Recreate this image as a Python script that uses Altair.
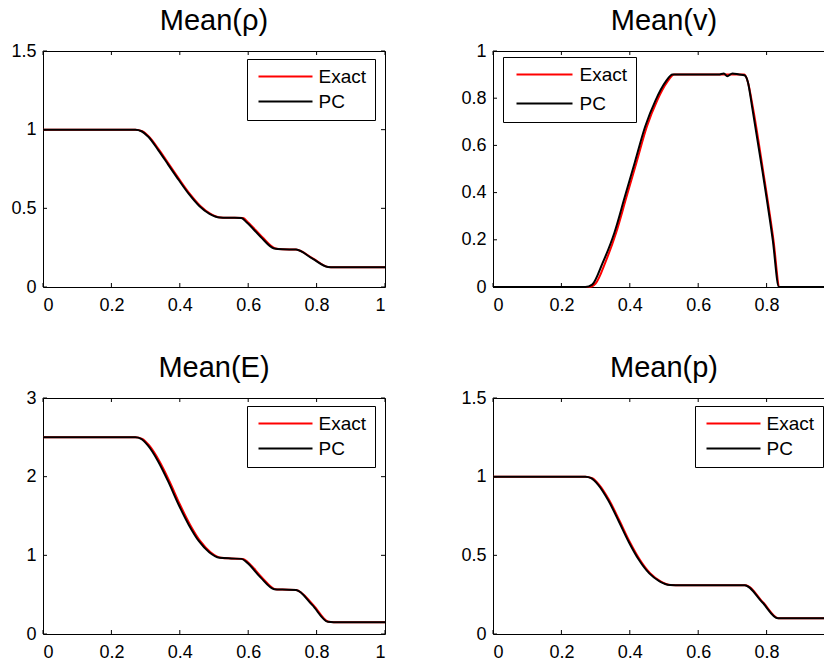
import altair as alt
import pandas as pd

FONT = "Liberation Sans"
W, H = 342, 236

x_ticks = [0, 0.2, 0.4, 0.6, 0.8, 1]
series_names = ["Exact", "PC"]
series_colors = ["#ff0000", "#000000"]

# Mean(rho)
rho_exact_x = [0, 0.27, 0.29, 0.31, 0.34, 0.37, 0.40, 0.43, 0.46, 0.49, 0.52, 0.55, 0.585, 0.60, 0.64, 0.68, 0.70, 0.74, 0.79, 0.835, 0.85, 1.0]
rho_exact_y = [1.0, 1.0, 0.99, 0.955, 0.87, 0.775, 0.68, 0.59, 0.515, 0.465, 0.442, 0.44, 0.438, 0.41, 0.32, 0.245, 0.24, 0.238, 0.18, 0.127, 0.125, 0.125]
rho_pc_x = [0, 0.27, 0.288, 0.308, 0.337, 0.367, 0.397, 0.427, 0.457, 0.487, 0.517, 0.55, 0.58, 0.596, 0.636, 0.676, 0.70, 0.74, 0.788, 0.833, 0.85, 1.0]
rho_pc_y = [1.0, 1.0, 0.99, 0.955, 0.87, 0.775, 0.68, 0.59, 0.515, 0.465, 0.442, 0.44, 0.438, 0.41, 0.32, 0.245, 0.24, 0.238, 0.18, 0.127, 0.125, 0.125]
rho_y_ticks = [0, 0.5, 1, 1.5]

# Mean(v)
v_exact_x = [0, 0.28, 0.30, 0.33, 0.36, 0.39, 0.42, 0.45, 0.48, 0.51, 0.53, 0.60, 0.70, 0.735, 0.745, 0.76, 0.79, 0.82, 0.838, 1.0]
v_exact_y = [0, 0, 0.015, 0.11, 0.23, 0.38, 0.53, 0.68, 0.79, 0.87, 0.90, 0.90, 0.90, 0.90, 0.87, 0.76, 0.49, 0.20, 0.0, 0]
v_pc_x = [0, 0.27, 0.29, 0.32, 0.355, 0.385, 0.415, 0.445, 0.475, 0.505, 0.525, 0.60, 0.66, 0.675, 0.685, 0.70, 0.72, 0.735, 0.745, 0.758, 0.788, 0.818, 0.836, 1.0]
v_pc_y = [0, 0, 0.01, 0.10, 0.23, 0.38, 0.53, 0.68, 0.79, 0.87, 0.90, 0.90, 0.90, 0.905, 0.893, 0.905, 0.90, 0.897, 0.87, 0.76, 0.49, 0.20, 0.0, 0]
v_y_ticks = [0, 0.2, 0.4, 0.6, 0.8, 1]

# Mean(E)
e_exact_x = [0, 0.27, 0.29, 0.31, 0.34, 0.37, 0.40, 0.43, 0.46, 0.49, 0.52, 0.55, 0.585, 0.60, 0.64, 0.68, 0.70, 0.74, 0.79, 0.835, 0.85, 1.0]
e_exact_y = [2.5, 2.5, 2.48, 2.40, 2.20, 1.94, 1.65, 1.39, 1.18, 1.04, 0.97, 0.96, 0.955, 0.91, 0.72, 0.57, 0.565, 0.56, 0.37, 0.155, 0.15, 0.15]
e_pc_x = [0, 0.27, 0.287, 0.306, 0.336, 0.366, 0.396, 0.426, 0.456, 0.486, 0.516, 0.55, 0.58, 0.596, 0.636, 0.676, 0.70, 0.74, 0.787, 0.833, 0.85, 1.0]
e_pc_y = [2.5, 2.5, 2.48, 2.40, 2.20, 1.94, 1.65, 1.39, 1.18, 1.04, 0.97, 0.96, 0.955, 0.91, 0.72, 0.57, 0.565, 0.56, 0.37, 0.155, 0.15, 0.15]
e_y_ticks = [0, 1, 2, 3]

# Mean(p)
p_exact_x = [0, 0.27, 0.29, 0.31, 0.34, 0.37, 0.40, 0.43, 0.46, 0.49, 0.52, 0.55, 0.70, 0.738, 0.79, 0.835, 0.85, 1.0]
p_exact_y = [1.0, 1.0, 0.99, 0.95, 0.85, 0.72, 0.585, 0.47, 0.385, 0.335, 0.312, 0.31, 0.31, 0.31, 0.20, 0.10, 0.10, 0.10]
p_pc_x = [0, 0.27, 0.287, 0.307, 0.337, 0.367, 0.397, 0.427, 0.457, 0.487, 0.517, 0.55, 0.70, 0.736, 0.788, 0.833, 0.85, 1.0]
p_pc_y = [1.0, 1.0, 0.99, 0.95, 0.85, 0.72, 0.585, 0.47, 0.385, 0.335, 0.312, 0.31, 0.31, 0.31, 0.20, 0.10, 0.10, 0.10]
p_y_ticks = [0, 0.5, 1, 1.5]


def panel(title, ex_x, ex_y, pc_x, pc_y, y_ticks, legend_x, legend_y, leg_rowpad,
          half_len, sym_off, lab_off):
    df = pd.DataFrame({
        "x": ex_x + pc_x,
        "y": ex_y + pc_y,
        "series": [series_names[0]] * len(ex_x) + [series_names[1]] * len(pc_x),
    })
    xs = alt.Scale(domain=[x_ticks[0], x_ticks[-1]], nice=False, zero=False)
    ys = alt.Scale(domain=[y_ticks[0], y_ticks[-1]], nice=False, zero=False)
    x_axis = alt.Axis(values=x_ticks, format="~g", title=None, labelPadding=9)
    y_axis = alt.Axis(values=y_ticks, format="~g", title=None, labelPadding=7)
    lines = alt.Chart(df).mark_line(strokeWidth=2, interpolate="monotone").encode(
        x=alt.X("x:Q", scale=xs, axis=x_axis),
        y=alt.Y("y:Q", scale=ys, axis=y_axis),
        color=alt.Color("series:N",
                        scale=alt.Scale(domain=series_names, range=series_colors),
                        legend=alt.Legend(
                            title=None, orient="none", legendX=legend_x, legendY=legend_y,
                            strokeColor="black", fillColor="white", padding=8,
                            rowPadding=leg_rowpad,
                            symbolType=f"M-{half_len},0H{half_len}",
                            symbolSize=4, symbolStrokeWidth=2, symbolOffset=sym_off,
                            labelFontSize=19, labelFont=FONT, labelColor="black",
                            labelOffset=lab_off)),
    )
    xt = alt.Chart(pd.DataFrame({"t": x_ticks}))
    yt = alt.Chart(pd.DataFrame({"t": y_ticks}))
    tick_bottom = xt.mark_rule(color="black", strokeWidth=1).encode(
        x=alt.X("t:Q", scale=xs, axis=x_axis), y=alt.value(H), y2=alt.value(H - 4))
    tick_top = xt.mark_rule(color="black", strokeWidth=1).encode(
        x=alt.X("t:Q", scale=xs, axis=x_axis), y=alt.value(0), y2=alt.value(4))
    tick_left = yt.mark_rule(color="black", strokeWidth=1).encode(
        y=alt.Y("t:Q", scale=ys, axis=y_axis), x=alt.value(0), x2=alt.value(4))
    tick_right = yt.mark_rule(color="black", strokeWidth=1).encode(
        y=alt.Y("t:Q", scale=ys, axis=y_axis), x=alt.value(W), x2=alt.value(W - 4))
    return alt.layer(lines, tick_bottom, tick_top, tick_left, tick_right).properties(
        width=W, height=H,
        title=alt.Title(title, fontSize=29, font=FONT, fontWeight="normal",
                        offset=6, anchor="middle", color="black"),
    )


p1 = panel("Mean(ρ)", rho_exact_x, rho_exact_y, rho_pc_x, rho_pc_y, rho_y_ticks, 204, 8, 5, 27, 21, 23.5)
p2 = panel("Mean(v)", v_exact_x, v_exact_y, v_pc_x, v_pc_y, v_y_ticks, 10, 6, 9, 28, 24, 25.5)
p3 = panel("Mean(E)", e_exact_x, e_exact_y, e_pc_x, e_pc_y, e_y_ticks, 204, 8, 5, 27, 21, 23.5)
p4 = panel("Mean(p)", p_exact_x, p_exact_y, p_pc_x, p_pc_y, p_y_ticks, 202, 8, 5, 27, 21, 23.5)

chart = alt.concat(
    p1, p2, p3, p4, columns=2, spacing={"row": 111, "column": 108}, bounds="flush"
).resolve_scale(color="independent").resolve_legend(color="independent").properties(
    padding={"left": 2, "top": -2, "right": -16, "bottom": -3}
).configure(font=FONT).configure_view(
    stroke="black", strokeWidth=1
).configure_axis(
    domain=False, ticks=False, tickSize=0, grid=False,
    labelFont=FONT, labelFontSize=18, labelColor="black"
)

chart.save("out.html", embed_options={"renderer": "svg", "actions": False})
